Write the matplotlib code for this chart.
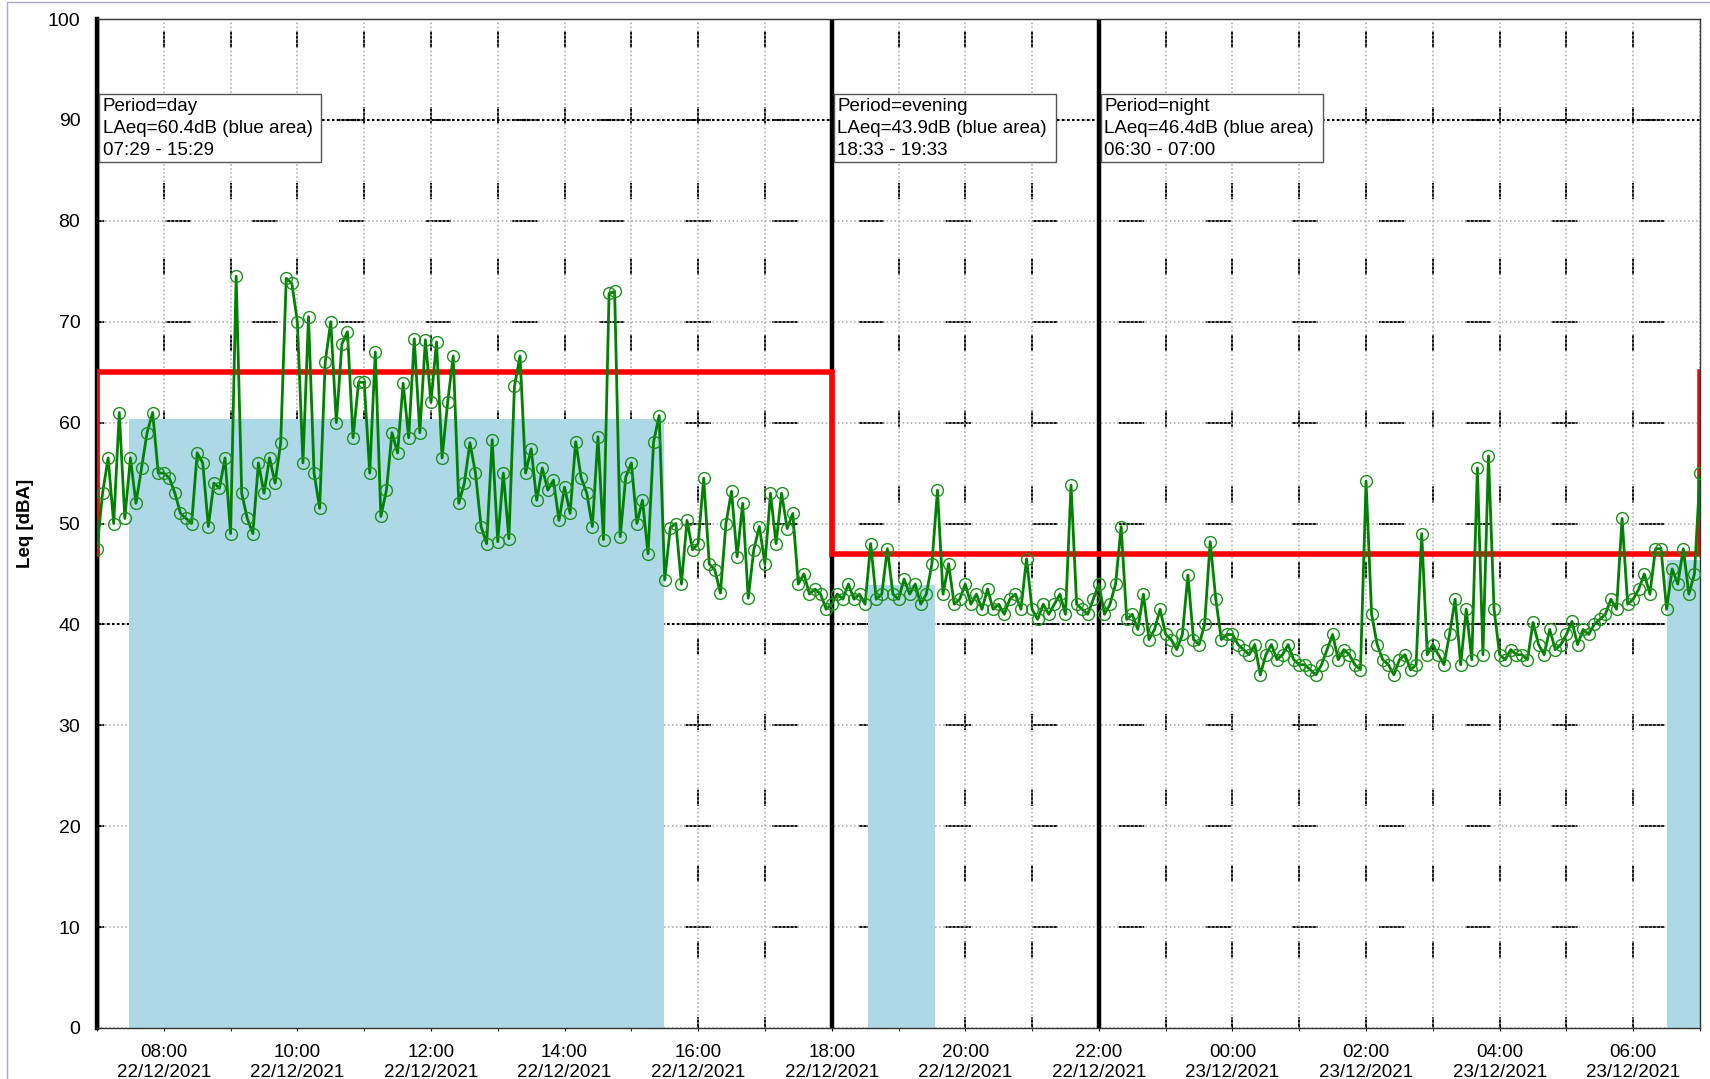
import matplotlib
matplotlib.use('Agg')
import matplotlib.pyplot as plt
import matplotlib.dates as mdates
from matplotlib.patches import Rectangle
import pandas as pd

plt.rcParams['font.family'] = ['Liberation Sans', 'DejaVu Sans']

# Leq readings, 5 minute steps, one list per hour (22/12 07:00 -> 23/12 07:00)
h07 = [47.5, 53, 56.5, 50, 61, 50.5, 56.5, 52, 55.5, 59, 61, 55]
h08 = [55, 54.5, 53, 51, 50.5, 50, 57, 56, 49.7, 54, 53.5, 56.5]
h09 = [49, 74.5, 53, 50.5, 49, 56, 53, 56.5, 54, 58, 74.3, 73.8]
h10 = [70, 56, 70.5, 55, 51.5, 66, 70, 60, 67.8, 69, 58.5, 64]
h11 = [64, 55, 67, 50.7, 53.3, 59, 57, 63.9, 58.5, 68.3, 59, 68.2]
h12 = [62, 68, 56.5, 62, 66.6, 52, 54, 58, 55, 49.7, 48, 58.3]
h13 = [48.2, 55, 48.5, 63.6, 66.6, 55, 57.4, 52.3, 55.5, 53.3, 54.3, 50.3]
h14 = [53.6, 51, 58.1, 54.5, 53, 49.7, 58.6, 48.4, 72.8, 73, 48.7, 54.6]
h15 = [56, 50, 52.3, 47, 58.1, 60.7, 44.4, 49.6, 50, 44, 50.3, 47.4]
h16 = [48, 54.5, 46, 45.4, 43.1, 50, 53.2, 46.7, 52, 42.6, 47.4, 49.7]
h17 = [46, 53, 48, 53, 49.5, 51, 44, 45, 43, 43.5, 43, 41.5]
h18 = [42, 43, 42.5, 44, 42.5, 43, 42, 48, 42.5, 43, 47.5, 43]
h19 = [42.5, 44.5, 43, 44, 42, 43, 46, 53.3, 43, 46, 42, 42.5]
h20 = [44, 42, 43, 41.5, 43.5, 41.5, 42, 41, 42.5, 43, 41.5, 46.5]
h21 = [41.5, 40.5, 42, 41, 42, 43, 41, 53.8, 42, 41.5, 41, 42.5]
h22 = [44, 41, 42, 44, 49.7, 40.5, 41, 39.5, 43, 38.5, 39.5, 41.5]
h23 = [39, 38.5, 37.5, 39, 44.9, 38.5, 38, 40, 48.2, 42.5, 38.5, 39]
h00 = [39, 38, 37.5, 37, 38, 35, 37, 38, 36.5, 37, 38, 36.5]
h01 = [36, 36, 35.5, 35, 36, 37.5, 39, 36.5, 37.5, 37, 36, 35.5]
h02 = [54.2, 41, 38, 36.5, 36, 35, 36.5, 37, 35.5, 36, 49, 37]
h03 = [38, 37, 36, 39, 42.5, 36, 41.5, 36.5, 55.5, 37, 56.7, 41.5]
h04 = [37, 36.5, 37.5, 37, 37, 36.5, 40.2, 38, 37, 39.5, 37.5, 38]
h05 = [39, 40.3, 38, 39.5, 39, 40, 40.5, 41, 42.5, 41.5, 50.5, 42]
h06 = [42.5, 43.5, 45, 43, 47.5, 47.5, 41.5, 45.5, 44, 47.5, 43, 45]
h07_end = [55]

# periods
period_names = ['day', 'evening', 'night']
period_starts = ['2021-12-22 07:00', '2021-12-22 18:00', '2021-12-22 22:00']
period_laeq = [60.4, 43.9, 46.4]
blue_from = ['2021-12-22 07:29', '2021-12-22 18:33', '2021-12-23 06:30']
blue_to = ['2021-12-22 15:29', '2021-12-22 19:33', '2021-12-23 07:00']

# limit line
limit_change = ['2021-12-22 07:00', '2021-12-22 18:00', '2021-12-23 07:00']
limit_day = 65
limit_night = 47

leq = (h07 + h08 + h09 + h10 + h11 + h12 + h13 + h14 + h15 + h16 + h17 + h18 +
       h19 + h20 + h21 + h22 + h23 + h00 + h01 + h02 + h03 + h04 + h05 + h06 + h07_end)
times = pd.date_range('2021-12-22 07:00', periods=len(leq), freq='5min')

W, H = 1710, 1079
fig = plt.figure(figsize=(W / 100, H / 100), dpi=100)
ax = fig.add_axes([97 / W, 1 - 1028 / H, (1700 - 97) / W, (1028 - 19) / H])

t_start = pd.Timestamp('2021-12-22 07:00')
t_end = pd.Timestamp('2021-12-23 07:00')
ax.set_xlim(t_start, t_end)
ax.set_ylim(0, 100)

# grid: light dotted + sparse black dashes
ax.xaxis.set_major_locator(mdates.HourLocator(byhour=range(0, 24, 2)))
ax.xaxis.set_minor_locator(mdates.HourLocator())
ax.xaxis.set_major_formatter(mdates.DateFormatter('%H:%M\n%d/%m/%Y'))
ax.set_yticks(range(0, 101, 10))
ax.grid(True, which='both', color='#a8a8a8', linestyle=':', linewidth=1.1, zorder=0)
ax.set_axisbelow(True)
for t in pd.date_range(t_start, t_end, freq='1h')[1:-1]:
    ax.axvline(t, color='black', linewidth=1.3, linestyle=(3, (9, 33)), zorder=0.5)
for v in range(10, 100, 10):
    ax.axhline(v, color='black', linewidth=1.3, linestyle=(10, (14, 34)), zorder=0.5)
for v in [40, 90]:
    ax.axhline(v, color='black', linewidth=1.5, linestyle=(0, (1.2, 1.2)), zorder=0.6)

# blue areas (LAeq per period)
for a, b, lv in zip(blue_from, blue_to, period_laeq):
    ax.fill_between([pd.Timestamp(a), pd.Timestamp(b)], 0, lv, color='#add8e6', linewidth=0, zorder=1)

# period borders
for s in period_starts:
    ax.axvline(pd.Timestamp(s), color='black', linewidth=3.2, zorder=2)

# limit line
lx = [pd.Timestamp(limit_change[0]), pd.Timestamp(limit_change[0]),
      pd.Timestamp(limit_change[1]), pd.Timestamp(limit_change[1]),
      pd.Timestamp(limit_change[2]), pd.Timestamp(limit_change[2])]
ly = [limit_night, limit_day, limit_day, limit_night, limit_night, limit_day]
ax.plot(lx, ly, color='#ff0000', linewidth=4, zorder=3, solid_joinstyle='miter')

# measured Leq
ax.plot(times, leq, color='#008000', linewidth=2.0, marker='o', markersize=8.5,
        markerfacecolor='none', markeredgecolor='#1f8f1f', markeredgewidth=1.0, zorder=4)

# period text boxes
labels = []
for name, lv, a, b in zip(period_names, period_laeq, blue_from, blue_to):
    labels.append('Period=%s\nLAeq=%.1fdB (blue area) \n%s - %s' % (name, lv, a[-5:], b[-5:]))
for s, txt in zip(period_starts, labels):
    ax.text(pd.Timestamp(s) + pd.Timedelta(minutes=5), 92.2, txt, fontsize=13.5,
            va='top', ha='left', linespacing=1.38, zorder=5,
            bbox=dict(boxstyle='square,pad=0.2', facecolor='white', edgecolor='#555555', linewidth=1))

ax.set_ylabel('Leq [dBA]', fontsize=13.5, fontweight='bold', labelpad=10)
ax.tick_params(axis='y', labelsize=14, length=3, direction='in', pad=12)
ax.tick_params(axis='x', which='major', labelsize=13.5, length=5, direction='inout', pad=9)
ax.tick_params(axis='x', which='minor', length=5, direction='inout')

for side in ['top', 'right', 'bottom']:
    ax.spines[side].set_color('#333333')
    ax.spines[side].set_linewidth(1)
ax.spines['left'].set_linewidth(3.2)
ax.spines['left'].set_color('black')

fig.patches.append(Rectangle((7 / W, -0.05), 1.1, 1.05 - 2 / H, transform=fig.transFigure,
                             fill=False, edgecolor='#a9a9c4', linewidth=1))

fig.savefig('out.png', dpi=100)
